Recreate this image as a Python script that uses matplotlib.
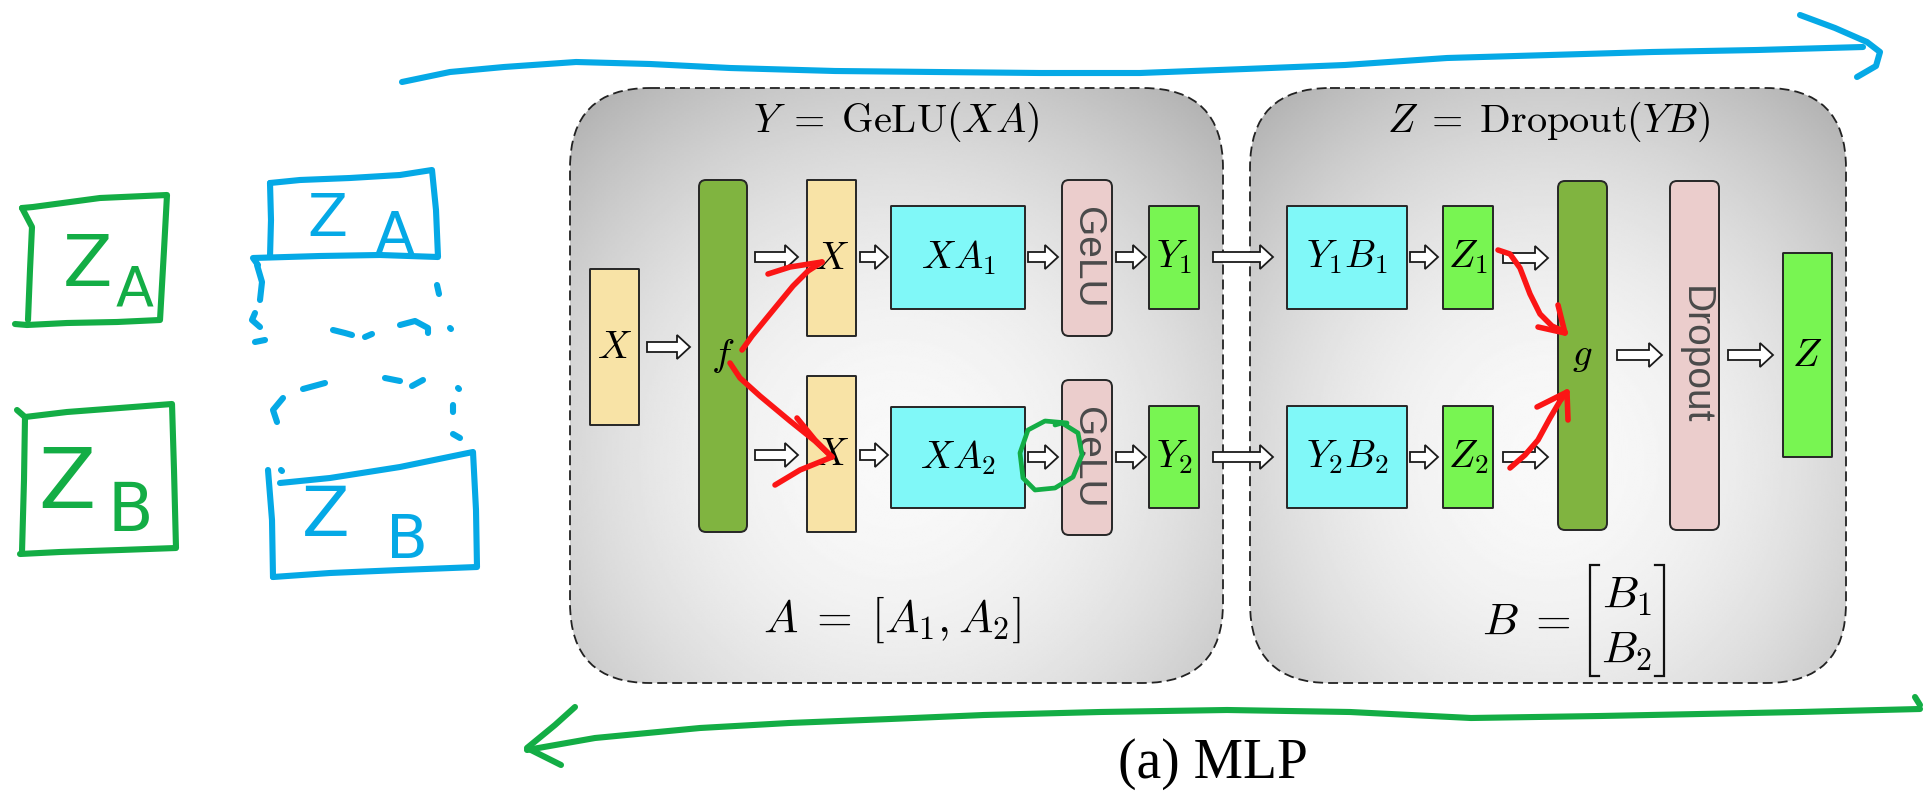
import numpy as np
import matplotlib.pyplot as plt
from matplotlib.patches import FancyBboxPatch, FancyArrow

plt.rcParams['mathtext.fontset'] = 'cm'

W, H = 1926, 793

# --- diagram content ---
panel_titles = [r'$Y\;=\;\mathrm{GeLU}(XA)$', r'$Z\;=\;\mathrm{Dropout}(YB)$']
panel_boxes = [(570, 88, 1223, 683), (1250, 88, 1846, 683)]

block_labels = [r'$X$', r'$f$', r'$X$', r'$X$', r'$XA_1$', r'$XA_2$', 'GeLU', 'GeLU',
                r'$Y_1$', r'$Y_2$', r'$Y_1B_1$', r'$Y_2B_2$', r'$Z_1$', r'$Z_2$',
                r'$g$', 'Dropout', r'$Z$']
block_kind = ['in', 'op', 'in', 'in', 'mat', 'mat', 'act', 'act',
              'out', 'out', 'mat', 'mat', 'out', 'out', 'op', 'act', 'out']
block_boxes = [(590, 269, 639, 425), (699, 180, 747, 532), (807, 180, 856, 336),
               (807, 376, 856, 532), (891, 206, 1025, 309), (891, 407, 1025, 508),
               (1062, 180, 1112, 336), (1062, 380, 1112, 535), (1149, 206, 1199, 309),
               (1149, 406, 1199, 508), (1287, 206, 1407, 309), (1287, 406, 1407, 508),
               (1443, 206, 1493, 309), (1443, 406, 1493, 508), (1558, 181, 1607, 530),
               (1670, 181, 1719, 530), (1783, 253, 1832, 457)]

arrows = [(647, 690, 347), (755, 798, 257), (755, 798, 455), (860, 888, 257),
          (860, 888, 455), (1028, 1058, 257), (1028, 1058, 457), (1116, 1146, 257),
          (1116, 1146, 457), (1213, 1273, 257), (1213, 1273, 457), (1410, 1438, 257),
          (1410, 1438, 457), (1503, 1548, 258), (1503, 1548, 457), (1617, 1662, 355),
          (1728, 1773, 355)]

kind_colors = {'in': '#f8e3a6', 'op': '#80b440', 'mat': '#80f8f8',
               'act': '#ebcdcc', 'out': '#78f552'}

# hand-drawn annotations
red_strokes = [
    [(742, 350), (752, 336), (770, 314), (793, 286), (808, 271), (822, 262)],
    [(768, 274), (790, 267), (822, 262)],
    [(730, 363), (740, 378), (760, 396), (790, 421), (815, 441), (832, 457)],
    [(797, 418), (815, 440), (832, 457)],
    [(775, 485), (800, 470), (832, 457)],
    [(1498, 250), (1510, 254), (1520, 268), (1530, 294), (1540, 314), (1552, 326), (1565, 332)],
    [(1538, 327), (1565, 333)],
    [(1558, 305), (1565, 333)],
    [(1510, 468), (1525, 455), (1538, 440), (1550, 418), (1560, 401), (1567, 392)],
    [(1537, 407), (1567, 392), (1568, 420)],
]
green_circle = [(1067, 423), (1045, 421), (1028, 430), (1020, 453), (1023, 478),
                (1035, 490), (1055, 488), (1073, 477), (1082, 455), (1078, 433),
                (1062, 423), (1055, 425)]

blue_strokes = [
    # top arrow
    [(402, 82), (450, 72), (504, 67), (576, 62), (650, 64), (730, 68), (835, 71),
     (935, 72), (1040, 73), (1140, 73), (1245, 69), (1345, 65), (1447, 58),
     (1550, 55), (1652, 52), (1757, 50), (1863, 47)],
    [(1800, 15), (1835, 28), (1867, 42), (1880, 52), (1876, 66), (1857, 77)],
    # box Z_A
    [(270, 183), (300, 180), (350, 178), (400, 175), (432, 170), (436, 210),
     (438, 257), (380, 255), (320, 256), (253, 258), (258, 265)],
    [(270, 183), (271, 220), (270, 257)],
    # dashed outline of the middle
    [(257, 265), (262, 282), (260, 300)], [(255, 313), (252, 320), (260, 327)],
    [(255, 342), (265, 340)], [(333, 330), (345, 333), (352, 335)],
    [(365, 337), (372, 334)], [(400, 325), (415, 321), (428, 328), (428, 333)],
    [(437, 285), (439, 294)], [(450, 328), (451, 329)],
    [(303, 389), (325, 383)], [(385, 378), (400, 381)], [(412, 386), (423, 380)],
    [(458, 388), (459, 389)], [(453, 405), (453, 412)], [(453, 434), (460, 438)],
    [(283, 398), (273, 410), (277, 422)], [(281, 470), (282, 471)],
    # box Z_B
    [(280, 483), (330, 478), (400, 467), (473, 452), (476, 510), (477, 567),
     (400, 570), (330, 573), (273, 577)],
    [(268, 470), (272, 520), (273, 577)],
]

green_strokes = [
    # bottom arrow
    [(1920, 705), (1915, 697)],
    [(1920, 709), (1800, 712), (1700, 714), (1600, 716), (1471, 718), (1350, 712),
     (1227, 710), (1100, 712), (984, 715), (890, 719), (789, 723), (700, 728),
     (595, 738), (527, 750)],
    [(575, 707), (555, 725), (527, 748), (545, 757), (561, 765)],
    # box Z_A
    [(22, 208), (33, 207), (100, 198), (167, 195), (164, 250), (160, 320),
     (117, 322), (67, 323), (27, 325), (15, 324)],
    [(22, 208), (32, 227), (30, 270), (28, 320)],
    # box Z_B
    [(17, 410), (25, 417), (67, 412), (133, 407), (172, 404), (174, 470), (176, 548),
     (120, 550), (60, 552), (20, 554)],
    [(25, 417), (24, 480), (22, 552)],
]

hand_text = [('Z', 87, 266, 52, '#13ad45'), ('A', 135, 291, 40, '#13ad45'),
             ('Z', 67, 484, 60, '#13ad45'), ('B', 130, 512, 48, '#13ad45'),
             ('Z', 327, 220, 42, '#05a9e6'), ('A', 394, 237, 42, '#05a9e6'),
             ('Z', 326, 516, 50, '#05a9e6'), ('B', 407, 541, 44, '#05a9e6')]

# --- figure ---
fig = plt.figure(figsize=(W / 100, H / 100), dpi=100)
ax = fig.add_axes([0, 0, 1, 1])
ax.set_xlim(0, W)
ax.set_ylim(H, 0)
ax.axis('off')

# gray panels with radial shading and dashed outline
for (x0, y0, x1, y1), title in zip(panel_boxes, panel_titles):
    patch = FancyBboxPatch((x0, y0), x1 - x0, y1 - y0,
                           boxstyle='round,pad=0,rounding_size=80',
                           fc='none', ec='#222222', lw=1.3,
                           ls=(0, (5.5, 2.8)), zorder=2)
    ax.add_patch(patch)
    xs = np.linspace(-1, 1, 300)
    ys = np.linspace(-1, 1, 300)
    gx, gy = np.meshgrid(xs, ys)
    r2 = gx ** 2 + (gy - 0.25) ** 2 * 0.85
    shade = np.clip(0.975 - 0.13 * r2, 0, 1)
    im = ax.imshow(shade, cmap='gray', vmin=0, vmax=1, extent=(x0, x1, y1, y0),
                   origin='upper', interpolation='bilinear', zorder=1)
    im.set_clip_path(patch)
    ax.text((x0 + x1) / 2, 122, title, ha='center', va='center', fontsize=29, zorder=5)

# blocks
for (x0, y0, x1, y1), lab, kind in zip(block_boxes, block_labels, block_kind):
    rnd = 7 if kind in ('op', 'act') else 0.5
    ax.add_patch(FancyBboxPatch((x0, y0), x1 - x0, y1 - y0,
                                boxstyle=f'round,pad=0,rounding_size={rnd}',
                                fc=kind_colors[kind], ec='#262626', lw=1.4, zorder=3))
    cx, cy = (x0 + x1) / 2, (y0 + y1) / 2
    if kind == 'act':
        ax.text(cx, cy, lab, rotation=-90, ha='center', va='center', fontsize=28,
                family='Liberation Sans', color='#4a4a4a', zorder=5)
    else:
        ax.text(cx, cy, lab, ha='center', va='center', fontsize=28, zorder=5)

# hollow arrows
for x0, x1, y in arrows:
    ax.add_patch(FancyArrow(x0, y, x1 - x0, 0, width=10, head_width=24, head_length=13,
                            length_includes_head=True, fc='white', ec='#1a1a1a',
                            lw=1.3, zorder=4))

# bottom formulas
ax.text(892, 620, r'$A\;=\;[A_1, A_2]$', ha='center', va='center', fontsize=33, zorder=5)
ax.text(1527, 622, r'$B\;=$', ha='center', va='center', fontsize=33, zorder=5)
ax.text(1627, 596, r'$B_1$', ha='center', va='center', fontsize=33, zorder=5)
ax.text(1627, 651, r'$B_2$', ha='center', va='center', fontsize=33, zorder=5)
for bx, tick in ((1590, 9), (1664, -9)):
    ax.plot([bx + tick, bx, bx, bx + tick], [565, 565, 676, 676], color='#111111',
            lw=1.6, zorder=5, solid_joinstyle='miter')

ax.text(1213, 764, '(a) MLP', ha='center', va='center', fontsize=40,
        family='Liberation Serif', zorder=5)

# hand-drawn marks
for pts in red_strokes:
    p = np.array(pts)
    ax.plot(p[:, 0], p[:, 1], color='#fb1515', lw=4.0, solid_capstyle='round',
            solid_joinstyle='round', zorder=7)
p = np.array(green_circle)
ax.plot(p[:, 0], p[:, 1], color='#13ad45', lw=3.4, solid_capstyle='round',
        solid_joinstyle='round', zorder=7)
for pts in blue_strokes:
    p = np.array(pts)
    ax.plot(p[:, 0], p[:, 1], color='#05a9e6', lw=4.4, solid_capstyle='round',
            solid_joinstyle='round', zorder=7)
for pts in green_strokes:
    p = np.array(pts)
    ax.plot(p[:, 0], p[:, 1], color='#13ad45', lw=4.4, solid_capstyle='round',
            solid_joinstyle='round', zorder=7)
for s, x, y, fs, c in hand_text:
    ax.text(x, y, s, ha='center', va='center', fontsize=fs, color=c, zorder=7)

fig.savefig('out.png', dpi=100)
